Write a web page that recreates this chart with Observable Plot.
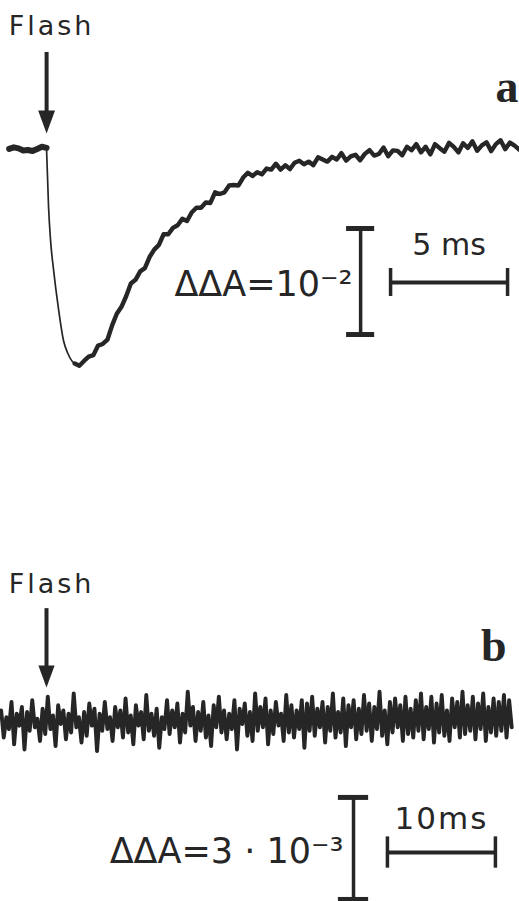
<!DOCTYPE html>
<html>
<head>
<meta charset="utf-8">
<script src="https://cdn.jsdelivr.net/npm/d3@7"></script>
<script src="https://cdn.jsdelivr.net/npm/@observablehq/plot@0.6"></script>
<style>
  body { margin: 0; background: #fff; }
  #fig { width: 519px; }
  #fig svg { display: block; background: #fff; }
</style>
</head>
<body>
<div id="fig"></div>
<script>
// ΔΔA is stored in units of 1e-3, time in ms after the flash.

// Trace a — before the flash
const preFlashTime = [-1.6, -1.4, -1.2, -1.0, -0.8, -0.6, -0.4, -0.2, 0];
const preFlashA = [0.15, 0.3, 0.2, 0.0, 0.05, -0.05, 0.15, 0.35, 0.25];

// Trace a — fast bleach right after the flash
const dropTime = [0, 0.085, 0.17, 0.3, 0.5, 0.73, 0.9, 1.1, 1.2];
const dropA = [0, -5.4, -8.5, -11.3, -14.8, -18.0, -19.1, -19.9, -20.1];

// Trace a — recovery, sampled every 0.2 ms from 1.2 ms
const recoveryStart = 1.2;
const recoveryStep = 0.2;
const recoveryA = [
  -20.1, -20.3, -19.85, -19.45, -19.3, -18.4, -18.25, -17.85, -16.5, -15.4,
  -14.75, -13.75, -12.55, -12.2, -11.4, -11.1, -10.05, -9.35, -8.9, -7.9,
  -7.9, -7.3, -7.05, -6.45, -6.65, -5.85, -5.4, -5.4, -4.9, -4.95,
  -3.95, -4.1, -3.95, -3.3, -3.25, -3.3, -2.55, -2.1, -2.4, -2.05,
  -2.25, -1.7, -1.8, -1.25, -1.8, -1.4, -1.75, -1.15, -0.97, -1.3,
  -1.05, -1.38, -0.64, -0.85, -1.05, -0.6, -0.85, -0.25, -0.95, -0.56,
  -0.4, -0.92, -0.32, 0.03, -0.48, -0.33, 0.27, -0.54, 0.01, -0.04,
  -0.45, 0.35, 0.03, 0.6, -0.17, 0.35, -0.37, 0.6, 0.22, -0.11,
  0.72, 0.34, -0.18, 0.69, 0.25, 0.86, -0.03, 0.48, 0.78, -0.06,
  0.6, 0.97, 0.13, 0.74, 0.46, 0.08
];

// Trace b — no signal, sampled every 0.24 ms from -4.2 ms
const traceBStart = -4.2;
const traceBStep = 0.24;
const traceB = [
  0.3, -0.5, 0.1, -0.25, 0.55, -0.7, 0.2, -0.15, 0.4, -0.85, 0.25, -0.3, 0.6, -0.2, 0.05, -0.6, 0.35, -0.4, 0.7, -0.25,
  0.15, -0.75, 0.45, -0.1, 0.3, -0.55, 0.2, -0.35, 0.8, -0.2, 0.1, -0.65, 0.25, -0.45, 0.5, -0.15, 0.35, -0.9, 0.2, -0.3,
  0.55, -0.25, 0.1, -0.6, 0.4, -0.2, 0.3, -0.5, 0.65, -0.35, 0.15, -0.7, 0.45, -0.15, 0.25, -0.55, 0.75, -0.3, 0.2, -0.45,
  0.35, -0.8, 0.1, -0.25, 0.6, -0.4, 0.3, -0.2, 0.5, -0.65, 0.2, -0.35, 0.85, -0.15, 0.4, -0.6, 0.25, -0.3, 0.55, -0.5,
  0.15, -0.75, 0.45, -0.2, 0.7, -0.35, 0.3, -0.55, 0.2, -0.25, 0.6, -0.85, 0.35, -0.1, 0.5, -0.45, 0.25, -0.6, 0.8, -0.3,
  0.4, -0.2, 0.65, -0.7, 0.3, -0.4, 0.55, -0.15, 0.2, -0.6, 0.75, -0.35, 0.45, -0.5, 0.3, -0.25, 0.6, -0.8, 0.5, -0.3,
  0.7, -0.45, 0.35, -0.2, 0.55, -0.65, 0.4, -0.3, 0.8, -0.5, 0.25, -0.35, 0.65, -0.75, 0.45, -0.2, 0.6, -0.55, 0.35, -0.4,
  0.75, -0.3, 0.5, -0.6, 0.4, -0.25, 0.85, -0.45, 0.3, -0.7, 0.55, -0.35, 0.65, -0.2, 0.45, -0.6, 0.7, -0.4, 0.35, -0.5,
  0.6, -0.3, 0.8, -0.55, 0.4, -0.25, 0.7, -0.65, 0.5, -0.35, 0.75, -0.45, 0.3, -0.6, 0.65, -0.2, 0.55, -0.5, 0.85, -0.4,
  0.45, -0.3, 0.7, -0.55, 0.5, -0.25, 0.8, -0.6, 0.4, -0.35, 0.65, -0.45, 0.55, -0.3, 0.75, -0.5, 0.6, -0.2
];

// Scale bars (time in ms, ΔΔA in 1e-3) and their labels
const scaleA = {ms: 5, dA: 10};
const scaleB = {ms: 10, dA: 3};
const panelLabels = ["a", "b"];
const flashLabel = "Flash";
const timeLabels = ["5 ms", "10ms"];
const ampLabels = ["ΔΔA=10⁻²", "ΔΔA=3 · 10⁻³"];

const ink = "#262626";
const sans = "DejaVu Sans";
const serif = "Liberation Serif";

const toPoints = (ts, vs) => ts.map((t, i) => ({t, v: vs[i]}));
const sampled = (start, step, vs) => vs.map((v, i) => ({t: start + i * step, v}));

// Filled arrow head with its tip at the anchor point, pointing down
const arrowHead = {
  draw(ctx, size) {
    const r = Math.sqrt(size / Math.PI);
    ctx.moveTo(0, 0);
    ctx.lineTo(-0.65 * r, -1.77 * r);
    ctx.lineTo(0.65 * r, -1.77 * r);
    ctx.closePath();
  }
};

// Vertical ΔΔA bar with caps, horizontal time bar with end ticks
function scaleBarMarks({vx, vTop, dA, capHalf, hx, hy, ms, tickHalf}) {
  return [
    Plot.ruleX([vx], {x: d => d, y1: vTop, y2: vTop - dA, stroke: ink, strokeWidth: 3.5}),
    Plot.ruleY([vTop, vTop - dA], {y: d => d, x1: vx - capHalf, x2: vx + capHalf, stroke: ink, strokeWidth: 5}),
    Plot.ruleY([hy], {y: d => d, x1: hx, x2: hx + ms, stroke: ink, strokeWidth: 4}),
    Plot.ruleX([hx, hx + ms], {x: d => d, y1: hy + tickHalf, y2: hy - tickHalf, stroke: ink, strokeWidth: 3.5})
  ];
}

const panelA = Plot.plot({
  width: 519,
  height: 450,
  margin: 0,
  x: {domain: [-1.97, 20.21], axis: null},
  y: {domain: [-28.3, 14.15], axis: null},
  marks: [
    Plot.line(toPoints(preFlashTime, preFlashA), {x: "t", y: "v", stroke: ink, strokeWidth: 6, strokeLinejoin: "round"}),
    Plot.line(toPoints(dropTime, dropA), {x: "t", y: "v", stroke: ink, strokeWidth: 1.7, curve: "monotone-x"}),
    Plot.line(sampled(recoveryStart, recoveryStep, recoveryA), {x: "t", y: "v", stroke: ink, strokeWidth: 4.4, strokeLinejoin: "round"}),
    // flash marker
    Plot.text([flashLabel], {x: 0, y: 10.85, dx: 5, text: d => d, fontSize: 27, fontFamily: sans, fill: ink, textAnchor: "middle", lineAnchor: "bottom"}),
    Plot.ruleX([0], {x: d => d, y1: 9.25, y2: 3, stroke: ink, strokeWidth: 4}),
    Plot.dot([0], {x: d => d, y: 1.6, symbol: arrowHead, r: 13, fill: ink, stroke: "none"}),
    // panel letter
    Plot.text([panelLabels[0]], {x: 20.17, y: 4.53, text: d => d, fontSize: 46, fontFamily: serif, fontWeight: "bold", fill: ink, textAnchor: "end", lineAnchor: "bottom"}),
    // scale bars
    ...scaleBarMarks({vx: 13.42, vTop: -7.36, dA: scaleA.dA, capHalf: 0.6, hx: 14.7, hy: -12.45, ms: scaleA.ms, tickHalf: 1.32}),
    Plot.text([ampLabels[0]], {x: 13.42, y: -13.7, dx: -8, text: d => d, fontSize: 35, fontFamily: sans, fill: ink, textAnchor: "end", lineAnchor: "bottom"}),
    Plot.text([timeLabels[0]], {x: 14.7 + scaleA.ms / 2, y: -9.9, text: d => d, fontSize: 30, fontFamily: sans, fill: ink, textAnchor: "middle", lineAnchor: "bottom"})
  ]
});

const panelB = Plot.plot({
  width: 519,
  height: 451,
  margin: 0,
  x: {domain: [-4.26, 43.8], axis: null},
  y: {domain: [-5.32, 7.94], axis: null},
  marks: [
    Plot.line(sampled(traceBStart, traceBStep, traceB), {x: "t", y: "v", stroke: ink, strokeWidth: 3.9, strokeLinejoin: "round"}),
    // flash marker
    Plot.text([flashLabel], {x: 0, y: 3.76, dx: 5, text: d => d, fontSize: 27, fontFamily: sans, fill: ink, textAnchor: "middle", lineAnchor: "bottom"}),
    Plot.ruleX([0], {x: d => d, y1: 3.29, y2: 1.5, stroke: ink, strokeWidth: 4}),
    Plot.dot([0], {x: d => d, y: 0.97, symbol: arrowHead, r: 12.5, fill: ink, stroke: "none"}),
    // panel letter
    Plot.text([panelLabels[1]], {x: 42.6, y: 1.76, text: d => d, fontSize: 46, fontFamily: serif, fontWeight: "bold", fill: ink, textAnchor: "end", lineAnchor: "bottom"}),
    // scale bars
    ...scaleBarMarks({vx: 28.43, vTop: -2.26, dA: scaleB.dA, capHalf: 1.4, hx: 31.57, hy: -3.88, ms: scaleB.ms, tickHalf: 0.46}),
    Plot.text([ampLabels[1]], {x: 28.43, y: -4.18, dx: -10, text: d => d, fontSize: 35, fontFamily: sans, fill: ink, textAnchor: "end", lineAnchor: "bottom"}),
    Plot.text([timeLabels[1]], {x: 31.57 + scaleB.ms / 2, y: -3.18, text: d => d, fontSize: 31, fontFamily: sans, fill: ink, textAnchor: "middle", lineAnchor: "bottom"})
  ]
});

const fig = document.getElementById("fig");
fig.append(panelA, panelB);

// letter spacing for the typewritten labels
d3.select(fig).selectAll("text").each(function () {
  const s = this.textContent;
  if (s === flashLabel) this.setAttribute("letter-spacing", "3");
  else if (s === timeLabels[1]) this.setAttribute("letter-spacing", "2");
});
</script>
</body>
</html>
